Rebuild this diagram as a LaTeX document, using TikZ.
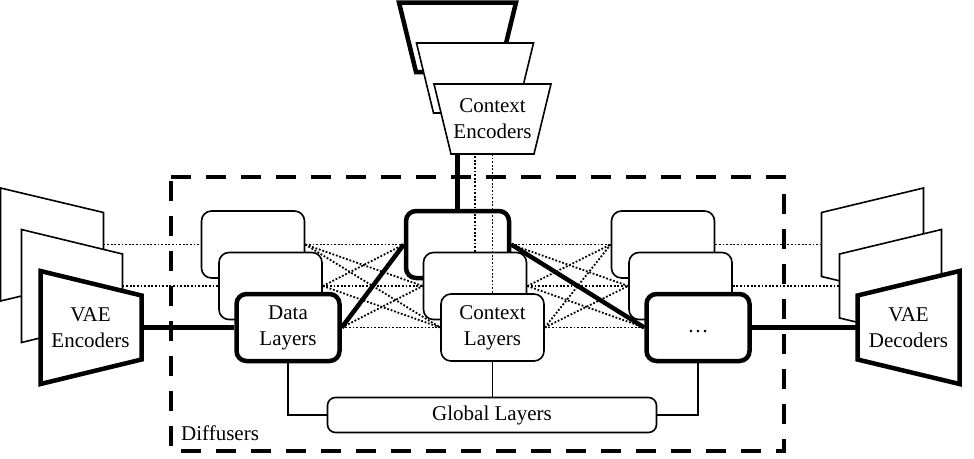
\documentclass[tikz,border=0pt]{standalone}
\usepackage{fontspec}
\setmainfont{Liberation Serif}
\pgfdeclarelayer{lzero}
\pgfdeclarelayer{lone}
\pgfdeclarelayer{ltwo}
\pgfdeclarelayer{lthree}
\pgfsetlayers{lzero,lone,ltwo,lthree,main}
\begin{document}
\begin{tikzpicture}[x=1pt,y=-1pt,
  txt/.style={font=\fontsize{21}{26}\selectfont, align=center, inner sep=0pt},
  thinln/.style={line width=1.6pt},
  thickln/.style={line width=4.5pt},
  dotln/.style={line width=1.8pt, dash pattern=on 1.8pt off 1.8pt},
  layerbox/.style={draw, fill=white, rounded corners=10pt, minimum width=103pt, minimum height=67pt, inner sep=0pt, txt, line width=1.6pt},
  boldbox/.style={layerbox, line width=4.5pt},
  plate/.style={draw, fill=white, line width=1.6pt, line join=miter},
  boldplate/.style={plate, line width=4.5pt}
]
\useasboundingbox (0,0) rectangle (974,458);

% ---------- depth 1 ----------
\begin{pgfonlayer}{lone}
  \draw[plate] (0.5,188) -- (103.5,212.5) -- (103.5,276.5) -- (0.5,301) -- cycle;
  \coordinate (encA) at (103.5,244.5);
  \draw[plate] (821.5,212.5) -- (923.5,188) -- (923.5,301) -- (821.5,276.5) -- cycle;
  \coordinate (decA) at (821.5,244.5);
  \draw[boldplate] (399,2.5) -- (516,2.5) -- (499,72) -- (416,72) -- cycle;
  \coordinate (ceA) at (457.5,72);
  \node[layerbox] (lA) at (253,244.5) {};
  \node[boldbox] (ctop) at (457.5,244.5) {};
  \node[layerbox] (rA) at (663,244.5) {};
\end{pgfonlayer}

% ---------- depth 2 ----------
\begin{pgfonlayer}{ltwo}
  \draw[plate] (21.5,229.5) -- (122.5,254) -- (122.5,318) -- (21.5,342.5) -- cycle;
  \coordinate (encB) at (122.5,286);
  \draw[plate] (839.5,254) -- (941.5,229.5) -- (941.5,342.5) -- (839.5,318) -- cycle;
  \coordinate (decB) at (839.5,286);
  \draw[plate] (416.5,43) -- (533.5,43) -- (516.5,113) -- (433.5,113) -- cycle;
  \coordinate (ceB) at (475,113);
  \node[layerbox] (lB) at (270.5,286) {};
  \node[layerbox] (cmid) at (475,286) {};
  \node[layerbox] (rB) at (680.5,286) {};
\end{pgfonlayer}

% ---------- depth 3 ----------
\begin{pgfonlayer}{lthree}
  \draw[boldplate] (40.5,271) -- (141.5,295.5) -- (141.5,359.5) -- (40.5,384) -- cycle;
  \coordinate (encC) at (141.5,327.5);
  \node[txt] (enclbl) at (90.5,328) {VAE\\Encoders};
  \draw[boldplate] (857.5,295.5) -- (959.5,271) -- (959.5,384) -- (857.5,359.5) -- cycle;
  \coordinate (decC) at (857.5,327.5);
  \node[txt] (declbl) at (908.5,328) {VAE\\Decoders};
  \draw[plate] (434,84) -- (551,84) -- (534,154) -- (451,154) -- cycle;
  \coordinate (ceC) at (492.5,154);
  \node[txt] (celbl) at (492.5,119) {Context\\Encoders};
  \node[boldbox] (data) at (288,327.5) {Data\\Layers};
  \node[layerbox] (ctx) at (492.5,327.5) {Context\\Layers};
  \node[boldbox] (rdots) at (698,327.5) {\strut\ldots};
\end{pgfonlayer}

% global layers
\node[layerbox, minimum width=329pt, minimum height=35pt, rounded corners=8pt] (glob) at (492,415) {Global Layers};
\node[txt, anchor=base west] (diff) at (181,440) {Diffusers};

% ---------- connectors ----------
\begin{pgfonlayer}{lzero}
  \draw[line width=4pt, dash pattern=on 20pt off 15pt, dash phase=-4pt] (171,177) rectangle (784,451);
  \draw[dotln] (encA) -- (lA.west);
  \draw[dotln] (encB) -- (lB.west);
  \draw[thickln] (encC) -- (data.west);
  \draw[dotln] (rA.east) -- (decA);
  \draw[dotln] (rB.east) -- (decB);
  \draw[thickln] (rdots.east) -- (decC);
  \foreach \a in {lA,lB,data} \foreach \b in {ctop,cmid,ctx} {\draw[dotln] (\a.east) -- (\b.west);}
  \foreach \a in {ctop,cmid,ctx} \foreach \b in {rA,rB,rdots} {\draw[dotln] (\a.east) -- (\b.west);}
  \draw[thickln] (data.east) -- (ctop.west);
  \draw[thickln] (ctop.east) -- (rdots.west);
\end{pgfonlayer}
\begin{pgfonlayer}{lone}
  \draw[thickln] (ceA) -- (ctop.north);
\end{pgfonlayer}
\begin{pgfonlayer}{ltwo}
  \draw[dotln] (ceB) -- (cmid.north);
\end{pgfonlayer}
\begin{pgfonlayer}{lthree}
  \draw[dotln] (ceC) -- (ctx.north);
\end{pgfonlayer}
\draw[thinln] (data.south) |- (glob.west);
\draw[thinln] (ctx.south) -- (ctx.south |- glob.north);
\draw[thinln] (rdots.south) |- (glob.east);
\end{tikzpicture}
\end{document}
